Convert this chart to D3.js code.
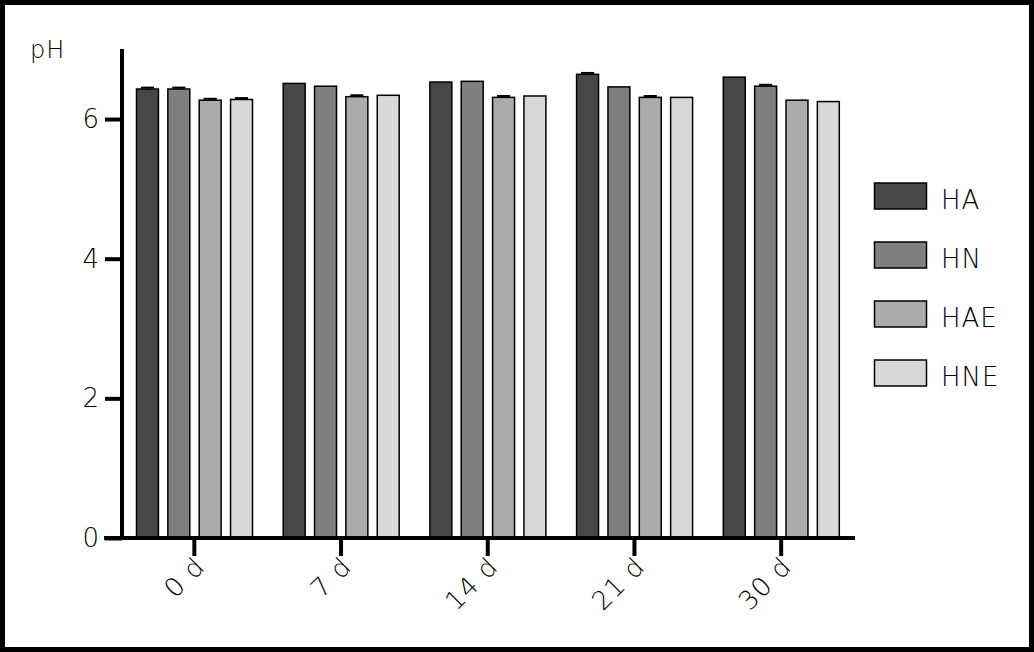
<!DOCTYPE html>
<html><head><meta charset="utf-8">
<script src="https://cdn.jsdelivr.net/npm/d3@7"></script>
<style>html,body{margin:0;padding:0;background:#fff;}svg{display:block;}
text{font-family:"DejaVu Sans",sans-serif;font-weight:200;fill:#000;}</style>
</head><body>
<svg id="c" width="1034" height="652"></svg>
<script>
const categories = ["0 d","7 d","14 d","21 d","30 d"];
const seriesNames = ["HA","HN","HAE","HNE"];
const colors = ["#474747","#7f7f7f","#ababab","#d8d8d8"];
const HA  = [6.43, 6.51, 6.53, 6.64, 6.60];
const HN  = [6.43, 6.47, 6.54, 6.46, 6.47];
const HAE = [6.27, 6.32, 6.31, 6.31, 6.27];
const HNE = [6.28, 6.34, 6.33, 6.31, 6.25];
const errHA  = [0.02, 0, 0, 0.02, 0];
const errHN  = [0.02, 0, 0, 0, 0.02];
const errHAE = [0.02, 0.02, 0.02, 0.02, 0];
const errHNE = [0.02, 0, 0, 0, 0];
const yTicks = [0,2,4,6];
const series = [HA,HN,HAE,HNE];
const errs = [errHA,errHN,errHAE,errHNE];

const svg = d3.select("#c");
svg.append("rect").attr("x",2.5).attr("y",2.5).attr("width",1029).attr("height",647)
  .attr("fill","#fff").attr("stroke","#000").attr("stroke-width",5);

const y = d3.scaleLinear().domain([0,7]).range([538,49.2]);
const x0 = d3.scaleBand().domain(categories).range([121,854.5]).padding(0);
const x1 = d3.scaleBand().domain(seriesNames).range([15.5,131.5]).paddingInner(0.3).paddingOuter(0);

const g = svg.append("g");
categories.forEach((c,ci)=>{
  seriesNames.forEach((s,si)=>{
    const v = series[si][ci], e = errs[si][ci];
    const bx = x0(c)+x1(s), bw = x1.bandwidth();
    if(e>0){
      const cx = bx+bw/2;
      g.append("line").attr("x1",cx).attr("x2",cx).attr("y1",y(v)).attr("y2",y(v+e)).attr("stroke","#000").attr("stroke-width",1.5);
      g.append("line").attr("x1",cx-bw*0.3).attr("x2",cx+bw*0.3).attr("y1",y(v+e)).attr("y2",y(v+e)).attr("stroke","#000").attr("stroke-width",2);
    }
    g.append("rect").attr("x",bx).attr("y",y(v)).attr("width",bw).attr("height",y(0)-y(v))
      .attr("fill",colors[si]).attr("stroke","#000").attr("stroke-width",1.5);
  });
});

const fontStyle = sel => sel.style("font-family","'DejaVu Sans',sans-serif").style("font-weight",200).style("letter-spacing","1px");

// y axis
const yAxis = d3.axisLeft(y).tickValues(yTicks).tickSize(17).tickPadding(6).tickFormat(d3.format("d"));
const ya = svg.append("g").attr("transform","translate(122,0)").call(yAxis);
ya.select(".domain").remove();
ya.selectAll(".tick line").attr("stroke","#000").attr("stroke-width",4);
ya.selectAll(".tick text").attr("font-size",26).call(fontStyle).style("letter-spacing","0px");
svg.append("line").attr("x1",122).attr("x2",122).attr("y1",49).attr("y2",540).attr("stroke","#000").attr("stroke-width",4);

// x axis
const xAxis = d3.axisBottom(x0).tickSize(18).tickPadding(4);
const xa = svg.append("g").attr("transform","translate(0,538)").call(xAxis);
xa.select(".domain").remove();
xa.selectAll(".tick line").attr("stroke","#000").attr("stroke-width",4);
xa.selectAll(".tick text").attr("font-size",26).call(fontStyle)
  .attr("text-anchor","end").attr("dy",null).attr("x",12).attr("y",30).attr("transform","rotate(-45,12,30)");
svg.append("line").attr("x1",104).attr("x2",855).attr("y1",538).attr("y2",538).attr("stroke","#000").attr("stroke-width",4);

svg.append("text").attr("x",30).attr("y",58).attr("font-size",24).style("letter-spacing","1px").text("pH");

// legend
const lg = svg.append("g");
seriesNames.forEach((s,i)=>{
  const ly = 183 + i*59;
  lg.append("rect").attr("x",874.5).attr("y",ly).attr("width",52).attr("height",26)
    .attr("fill",colors[i]).attr("stroke","#000").attr("stroke-width",1.5);
  lg.append("text").attr("x",941).attr("y",ly+26).attr("font-size",26).style("letter-spacing","1px").text(s);
});
</script>
</body></html>
